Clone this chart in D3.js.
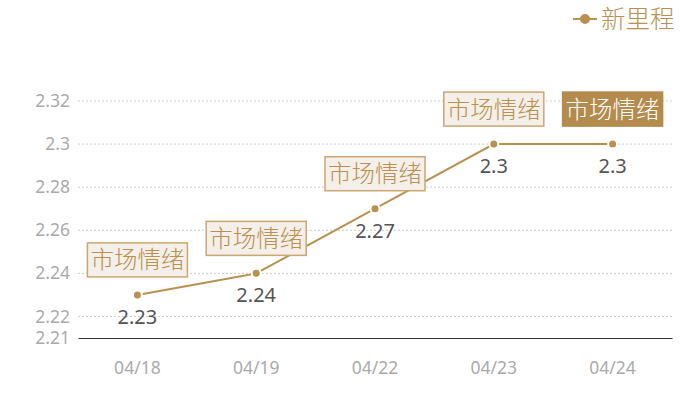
<!DOCTYPE html>
<html>
<head>
<meta charset="utf-8">
<script src="https://cdn.jsdelivr.net/npm/d3@7"></script>
<style>
  body { margin: 0; background: #fff; }
  text { font-family: "Noto Sans", "Noto Sans CJK SC", sans-serif; }
  .cjk { font-family: "Noto Sans CJK SC", sans-serif; font-weight: 300; }
</style>
</head>
<body>
<div class="chart"></div>
<script>
const dates = ['04/18', '04/19', '04/22', '04/23', '04/24']
const values = [2.23, 2.24, 2.27, 2.3, 2.3]
const tags = ['市场情绪', '市场情绪', '市场情绪', '市场情绪', '市场情绪']
const yTicks = [2.21, 2.22, 2.24, 2.26, 2.28, 2.3, 2.32]
const seriesName = '新里程'

const gold = '#b8904f'

const svg = d3.select('.chart')
    .append('svg')
    .attr('width', 700)
    .attr('height', 400)

const x = d3.scaleBand()
    .domain(dates)
    .range([78, 672])

const y = d3.scaleLinear()
    .domain([2.21, 2.32])
    .range([338, 101])

// grid lines
svg.append('g')
    .selectAll('line')
    .data(yTicks.slice(1))
    .join('line')
    .attr('x1', 78)
    .attr('x2', 672)
    .attr('y1', d => y(d))
    .attr('y2', d => y(d))
    .attr('stroke', '#ccc')
    .attr('stroke-dasharray', '2,2')

// y labels
svg.append('g')
    .selectAll('text')
    .data(yTicks)
    .join('text')
    .attr('x', 70)
    .attr('y', d => y(d))
    .attr('dy', '0.35em')
    .attr('text-anchor', 'end')
    .attr('fill', '#aaa')
    .attr('font-size', 17.5)
    .text(d => d)

// x axis
const xAxis = svg.append('g')
    .attr('transform', 'translate(0,338)')
    .call(d3.axisBottom(x).tickSize(0).tickPadding(24))
xAxis.select('.domain').attr('stroke', '#333').attr('stroke-width', 1.2)
xAxis.selectAll('text')
    .attr('fill', '#aaa')
    .attr('font-size', 17.5)
    .attr('font-family', '"Noto Sans", sans-serif')

const cx = (d, i) => x(dates[i]) + x.bandwidth() / 2

// line
svg.append('path')
    .datum(values)
    .attr('d', d3.line().x(cx).y(d => y(d)))
    .attr('fill', 'none')
    .attr('stroke', gold)
    .attr('stroke-width', 2)

svg.append('g')
    .selectAll('circle')
    .data(values)
    .join('circle')
    .attr('cx', cx)
    .attr('cy', d => y(d))
    .attr('r', 4.5)
    .attr('fill', gold)
    .attr('stroke', '#fff')
    .attr('stroke-width', 2)

// value labels
svg.append('g')
    .selectAll('text')
    .data(values)
    .join('text')
    .attr('x', cx)
    .attr('y', d => y(d) + 22)
    .attr('dy', '0.35em')
    .attr('text-anchor', 'middle')
    .attr('fill', '#555')
    .attr('font-size', 20)
    .text(d => d)

// tag boxes
const tagG = svg.append('g')
    .selectAll('g')
    .data(values)
    .join('g')
    .attr('transform', (d, i) => `translate(${cx(d, i)},${y(d) - 35})`)

tagG.append('rect')
    .attr('x', -50)
    .attr('y', -17)
    .attr('width', 100)
    .attr('height', 34)
    .attr('fill', (d, i) => i === values.length - 1 ? '#b38b4d' : '#f4efe8')
    .attr('stroke', (d, i) => i === values.length - 1 ? '#b38b4d' : '#caa772')
    .attr('stroke-width', 1.5)

tagG.append('text')
    .attr('class', 'cjk')
    .attr('text-anchor', 'middle')
    .attr('dy', '0.36em')
    .attr('font-size', 23.5)
    .attr('fill', (d, i) => i === values.length - 1 ? '#fff' : gold)
    .text((d, i) => tags[i])

// legend
const legend = svg.append('g')
legend.append('line')
    .attr('x1', 573).attr('x2', 597)
    .attr('y1', 19).attr('y2', 19)
    .attr('stroke', gold)
    .attr('stroke-width', 2)
legend.append('circle')
    .attr('cx', 585).attr('cy', 19).attr('r', 5)
    .attr('fill', gold)
legend.append('text')
    .attr('class', 'cjk')
    .attr('x', 601).attr('y', 19)
    .attr('dy', '0.36em')
    .attr('font-size', 24.5)
    .attr('fill', gold)
    .text(seriesName)
</script>
</body>
</html>
